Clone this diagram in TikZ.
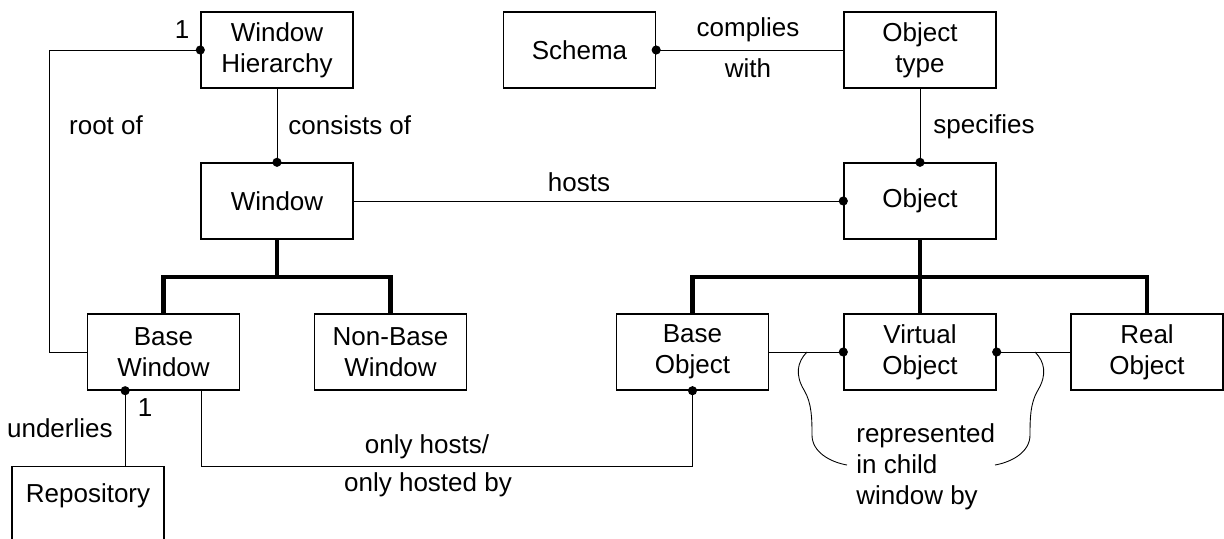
\documentclass[tikz,border=0pt]{standalone}
\usepackage{fontspec}
\setmainfont{Liberation Sans}
\usepackage{tikz}
\usetikzlibrary{positioning, calc}

\tikzset{
  ent/.style={draw, line width=0.8pt, minimum width=3.04cm, minimum height=1.52cm, align=center, inner sep=0pt},
  rel/.style={line width=0.5pt},
  isa/.style={line width=2.8pt},
  lbl/.style={inner sep=0pt},
}
\newcommand{\jdot}[1]{\fill (#1) circle (2.6pt);}

\begin{document}
\begin{tikzpicture}[x=0.02cm, y=-0.02cm, font=\fontsize{14.8}{17.6}\selectfont]
        \useasboundingbox (0,0) rectangle (1224,538);
        % Entidades
        \node[ent] (hier) at (277,50) {Window\\Hierarchy};
        \node[ent] (schema) at (579.5,50) {Schema};
        \node[ent] (otype) at (920,50) {Object\\type};
        \node[ent] (win) at (277,201) {Window};
        \node[ent] (obj) at (920,201) {Object};
        \node[ent] (basewin) at (163.5,352) {Base\\Window};
        \node[ent] (nonbase) at (390.5,352) {Non-Base\\Window};
        \node[ent] (baseobj) at (692.5,352) {Base\\Object};
        \node[ent] (virtobj) at (920,352) {Virtual\\Object};
        \node[ent] (realobj) at (1147,352) {Real\\Object};
        \node[ent, anchor=north, minimum height=1.6cm, text depth=0.54cm] (repo) at (88,466) {Repository};
        % Lado ventanas
        \draw[rel] (hier.west) -- ++(-151,0) |- (basewin.west);
        \jdot{hier.west}
        \node[lbl] (one1) at (182,30) {1};
        \node[lbl] (rootof) at (106,125) {root of};
        \draw[rel] (hier.south) -- (win.north);
        \jdot{win.north}
        \node[lbl, anchor=west] (consists) at (288,125) {consists of};
        % Esquema y tipos
        \draw[rel] (schema.east) -- (otype.west);
        \jdot{schema.east}
        \node[lbl] (compl) at (748,30) {complies};
        \node[lbl] (with) at (748,68) {with};
        \draw[rel] (otype.south) -- (obj.north);
        \jdot{obj.north}
        \node[lbl, anchor=west] (spec) at (933,127) {specifies};
        \draw[rel] (win.east) -- (obj.west);
        \jdot{obj.west}
        \node[lbl] (hosts) at (579,182) {hosts};
        % Barras de especializacion
        \coordinate (wjoin) at (277,277);
        \coordinate (ojoin) at (920,277);
        \draw[isa] (win.south) -- (wjoin);
        \draw[isa] (basewin.north) |- (wjoin) -| (nonbase.north);
        \draw[isa] (obj.south) -- (virtobj.north);
        \draw[isa] (baseobj.north) |- (ojoin) -| (realobj.north);
        % Ventana base
        \coordinate (bwleft) at ($(basewin.south west)!0.25!(basewin.south east)$);
        \coordinate (bwright) at ($(basewin.south west)!0.75!(basewin.south east)$);
        \draw[rel] (bwleft) -- (bwleft |- repo.north);
        \jdot{bwleft}
        \node[lbl] (one2) at (145,408) {1};
        \node[lbl, anchor=east] (underl) at (113,428) {underlies};
        \draw[rel] (bwright) -- ++(0,76) -| (baseobj.south);
        \jdot{baseobj.south}
        \node[lbl] (onlyh) at (427,447) {only hosts/};
        \node[lbl] (onlyhb) at (428,485) {only hosted by};
        % Objetos
        \draw[rel] (baseobj.east) -- (virtobj.west);
        \jdot{virtobj.west}
        \draw[rel] (virtobj.east) -- (realobj.west);
        \jdot{virtobj.east}
        % Llaves
        \draw[rel] (807,352) .. controls (797,362) and (795,375) .. (804,390)
          .. controls (812,403) and (812,420) .. (812,435)
          .. controls (812,452) and (830,462) .. (847,465);
        \draw[rel] (1035,352) .. controls (1045,362) and (1047,375) .. (1038,390)
          .. controls (1030,403) and (1030,420) .. (1030,435)
          .. controls (1030,452) and (1012,462) .. (995,465);
        \node[lbl, align=left, anchor=west] (repr) at (856,467) {represented\\in child\\window by};
      \end{tikzpicture}
\end{document}
